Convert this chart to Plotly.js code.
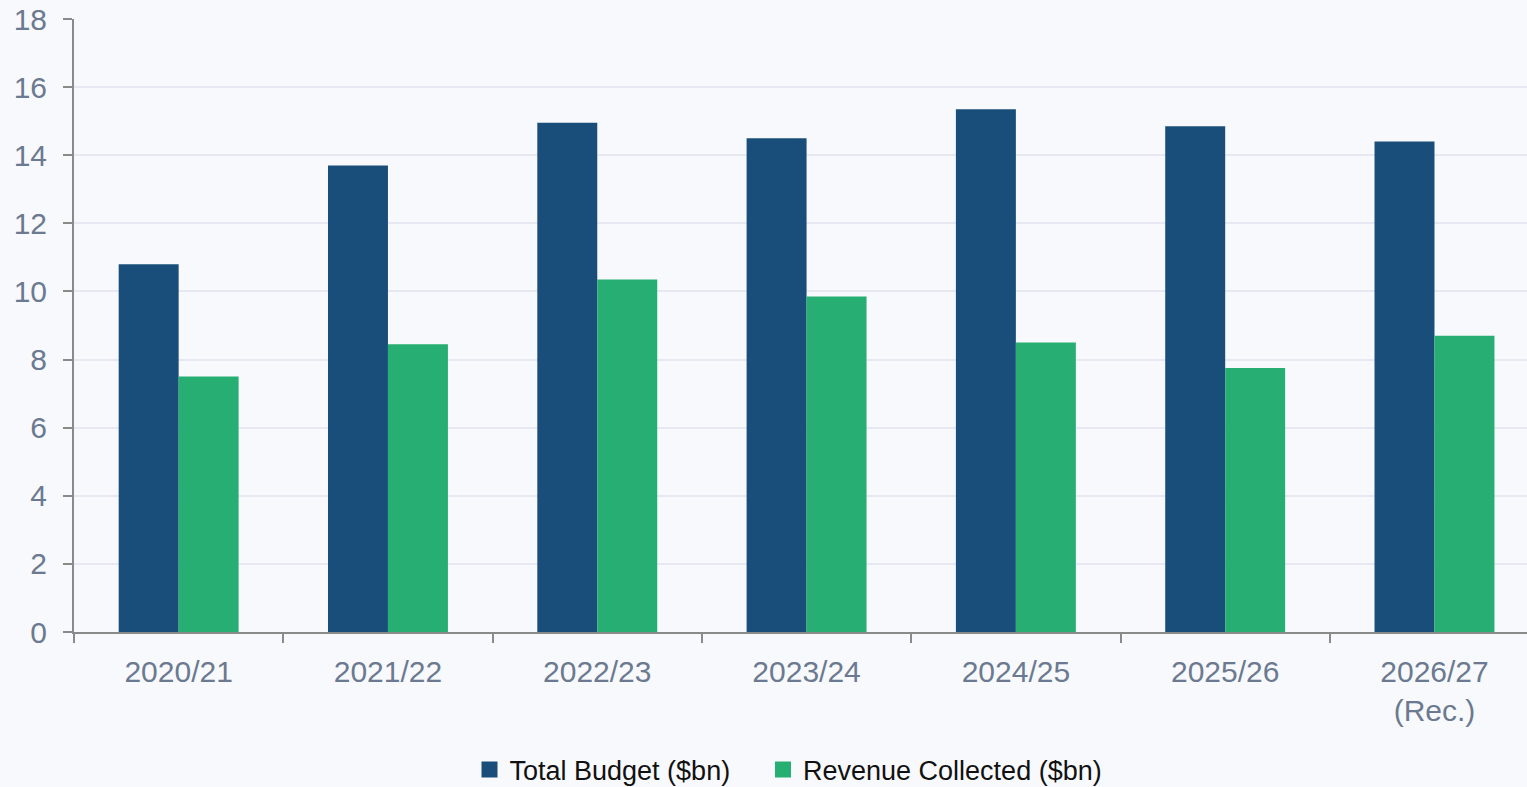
<!DOCTYPE html>
<html>
<head>
<meta charset="utf-8">
<script src="https://cdn.plot.ly/plotly-3.0.1.min.js"></script>
<style>html,body{margin:0;padding:0;background:#f8f9fc;overflow:hidden;}#chart{width:1527px;height:787px;}</style>
</head>
<body>
<div id="chart"></div>
<script>
const categories = ["2020/21", "2021/22", "2022/23", "2023/24", "2024/25", "2025/26", "2026/27<br>(Rec.)"];
const totalBudget = [10.8, 13.7, 14.95, 14.5, 15.35, 14.85, 14.4];
const revenueCollected = [7.5, 8.45, 10.35, 9.85, 8.5, 7.75, 8.7];
const yTicks = [0, 2, 4, 6, 8, 10, 12, 14, 16, 18];
const seriesNames = ["Total Budget ($bn)", "Revenue Collected ($bn)"];
const seriesColors = ["#1a4e7a", "#27ae72"];

const traces = [
  {type: "bar", name: seriesNames[0], x: categories, y: totalBudget, marker: {color: seriesColors[0]}, showlegend: false},
  {type: "bar", name: seriesNames[1], x: categories, y: revenueCollected, marker: {color: seriesColors[1]}, showlegend: false},
  {type: "scatter", mode: "markers", name: seriesNames[0], x: [null], y: [null], marker: {symbol: "square", size: 17, color: seriesColors[0]}, hoverinfo: "skip", legend: "legend"},
  {type: "scatter", mode: "markers", name: seriesNames[1], x: [null], y: [null], marker: {symbol: "square", size: 17, color: seriesColors[1]}, hoverinfo: "skip", legend: "legend2"}
];

const legendFont = {family: "Liberation Sans Narrow, Arial Narrow, sans-serif", size: 27, color: "#111"};
const layout = {
  width: 1527, height: 787,
  paper_bgcolor: "#f8f9fc", plot_bgcolor: "#f8f9fc",
  margin: {l: 74, r: 0, t: 19, b: 155, autoexpand: false},
  barmode: "group", bargap: 0.427, bargroupgap: 0,
  showlegend: true,
  legend: {orientation: "h", x: 0.2722, xanchor: "left", y: -0.225, yanchor: "middle",
    font: legendFont, itemsizing: "trace", itemwidth: 30, bgcolor: "rgba(0,0,0,0)"},
  legend2: {orientation: "h", x: 0.4742, xanchor: "left", y: -0.225, yanchor: "middle",
    font: legendFont, itemsizing: "trace", itemwidth: 30, bgcolor: "rgba(0,0,0,0)"},
  xaxis: {
    type: "category", range: [-0.5, 6.442], tickson: "boundaries", ticks: "outside", ticklen: 9, tickwidth: 2, tickcolor: "#8a8a8a",
    showline: true, linecolor: "#8a8a8a", linewidth: 2, showgrid: false, zeroline: false, automargin: false,
    tickfont: {family: "Liberation Sans, Arial, sans-serif", size: 30, color: "#6b7a90"},
    ticklabelstandoff: 12
  },
  yaxis: {
    range: [0, 18], tickvals: yTicks, ticks: "outside", ticklen: 9, tickwidth: 2, tickcolor: "#8a8a8a",
    showline: true, linecolor: "#8a8a8a", linewidth: 2, automargin: false,
    showgrid: true, gridcolor: "#e6e9f1", gridwidth: 1.5, zeroline: false,
    tickfont: {family: "Liberation Sans, Arial, sans-serif", size: 30, color: "#6b7a90"},
    ticklabelstandoff: 10
  }
};

Plotly.newPlot("chart", traces, layout, {displayModeBar: false});
</script>
</body>
</html>
